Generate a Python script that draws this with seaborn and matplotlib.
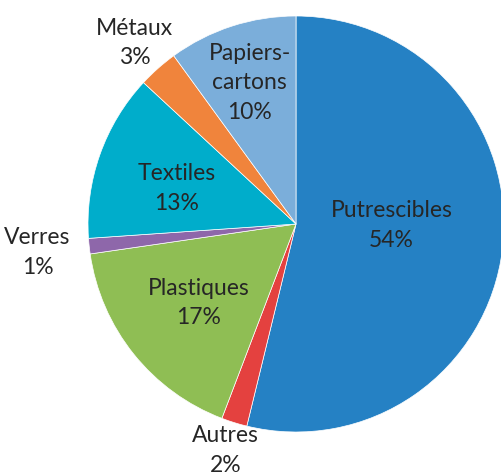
import numpy as np
import matplotlib
matplotlib.use("Agg")
import matplotlib.pyplot as plt
import seaborn as sns

# =========================
# DATA
# =========================

categories = ["Putrescibles", "Autres", "Plastiques", "Verres",
              "Textiles", "Métaux", "Papiers-\ncartons"]
shares = [53.8, 2.0, 16.9, 1.2, 13.0, 3.1, 10.0]
pct_labels = ["54%", "2%", "17%", "1%", "13%", "3%", "10%"]

# =========================
# STYLE
# =========================

sns.set_theme(style="white")
plt.rcParams["font.family"] = ["Lato", "DejaVu Sans"]

colors = ["#2581C4", "#E4413F", "#8FBE54", "#8E67AA",
          "#00ADCB", "#F0843C", "#7BAEDA"]
# radial distance (in radii) and angular nudge (deg) for each label
label_radius = [0.46, 1.135, 0.60, 1.25, 0.60, 1.17, 0.72]
label_nudge = [6.5, 0, 0, 0, 2.5, 0, 0]

fig = plt.figure(figsize=(5.02, 4.77), dpi=100)
ax = fig.add_axes([0, 0, 1, 1])

wedges, _ = ax.pie(
    shares,
    colors=colors,
    startangle=90,
    counterclock=False,
    radius=1.0,
    wedgeprops=dict(edgecolor="white", linewidth=0.5),
)

# labels placed along each wedge's middle angle
for w, name, pct, r, d in zip(wedges, categories, pct_labels,
                              label_radius, label_nudge):
    mid = np.deg2rad((w.theta1 + w.theta2) / 2 + d)
    x, y = r * np.cos(mid), r * np.sin(mid)
    ax.text(x, y, f"{name}\n{pct}", ha="center", va="center",
            fontsize=16.5, color="#262626", linespacing=1.5)

ax.set_aspect("auto")
ax.set_xlim(-296 / 208, 206 / 208)
ax.set_ylim(-252 / 208, 225 / 208)
ax.axis("off")

fig.savefig("out.png", dpi=100)
